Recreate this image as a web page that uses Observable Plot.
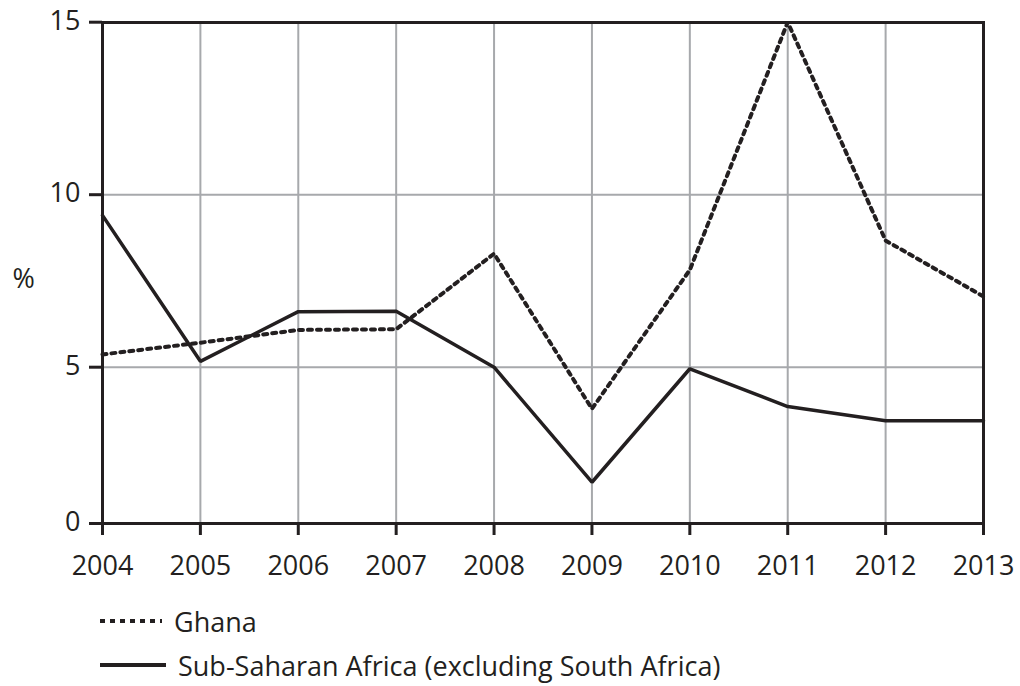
<!DOCTYPE html>
<html>
<head>
<meta charset="utf-8">
<script src="https://cdn.jsdelivr.net/npm/d3@7"></script>
<script src="https://cdn.jsdelivr.net/npm/@observablehq/plot@0.6"></script>
<style>
  html, body { margin: 0; padding: 0; background: #fff; }
  body { width: 1020px; height: 686px; overflow: hidden; font-family: "Open Sans", sans-serif; color: #231f20; }
  #legend { position: relative; margin-left: 100px; font-size: 27px; }
  .row { display: flex; align-items: center; height: 44px; }
  .row svg { margin-right: 12px; }
</style>
</head>
<body>
<div id="chart"></div>
<div id="legend"></div>
<script>
const years = [2004, 2005, 2006, 2007, 2008, 2009, 2010, 2011, 2012, 2013];
const ghana = [5.37, 5.71, 6.08, 6.1, 8.29, 3.67, 7.82, 15.0, 8.67, 7.05];
const ssa = [9.4, 5.17, 6.61, 6.62, 5.0, 1.32, 4.95, 3.74, 3.29, 3.29];
const yTicks = [0, 5, 10, 15];
const seriesNames = ["Ghana", "Sub-Saharan Africa (excluding South Africa)"];

const ink = "#231f20";
const grid = "#a7a9ac";
const ghanaData = years.map((year, i) => ({year, value: ghana[i]}));
const ssaData = years.map((year, i) => ({year, value: ssa[i]}));

// the original axis is compressed between 0 and 5
const lowRatio = 31.26 / 34.5;
const yWarp = v => (v <= 5 ? v * lowRatio : 5 * lowRatio + (v - 5));
const frameW = 983 - 102;

const chart = Plot.plot({
  width: 1020,
  height: 592,
  marginLeft: 102,
  marginRight: 37,
  marginTop: 22,
  marginBottom: 69,
  style: {fontFamily: "Open Sans, sans-serif", fontSize: "27px", color: ink, background: "#fff"},
  x: {domain: [2004, 2013], range: [102, 983]},
  y: {transform: yWarp, domain: [yWarp(0), yWarp(15)], range: [523, 21.7], axis: null},
  marks: [
    Plot.ruleX(years, {stroke: grid, strokeWidth: 2}),
    Plot.ruleY([5, 10], {stroke: grid, strokeWidth: 2}),
    Plot.frame({stroke: ink, strokeWidth: 3}),
    Plot.axisX({ticks: years, tickFormat: d => String(d), tickSize: 12, tickPadding: 20, strokeWidth: 3, stroke: ink, label: null, fill: ink}),
    // y axis ticks and labels
    Plot.ruleY(yTicks, {y: d => d, insetLeft: -13, insetRight: frameW, stroke: ink, strokeWidth: 3}),
    Plot.text(yTicks, {y: d => d, text: d => String(d), frameAnchor: "left", textAnchor: "end", dx: -22, dy: -1, fill: ink, fontSize: 27}),
    Plot.line(ghanaData, {x: "year", y: "value", stroke: ink, strokeWidth: 4, strokeDasharray: "4,5", strokeLinejoin: "miter"}),
    Plot.line(ssaData, {x: "year", y: "value", stroke: ink, strokeWidth: 3.5, strokeLinejoin: "miter"}),
    Plot.text(["%"], {frameAnchor: "left", dx: -90, dy: 6, text: d => d, fill: ink, fontSize: 27})
  ]
});
document.getElementById("chart").appendChild(chart);

const legend = document.getElementById("legend");
legend.style.marginTop = "7px";
legend.innerHTML = `
  <div class="row"><svg width="62" height="8"><line x1="0" x2="62" y1="4" y2="4" stroke="${ink}" stroke-width="4" stroke-dasharray="5,5"/></svg><span>${seriesNames[0]}</span></div>
  <div class="row"><svg width="66" height="8"><line x1="0" x2="66" y1="4" y2="4" stroke="${ink}" stroke-width="4"/></svg><span>${seriesNames[1]}</span></div>`;
</script>
</body>
</html>
